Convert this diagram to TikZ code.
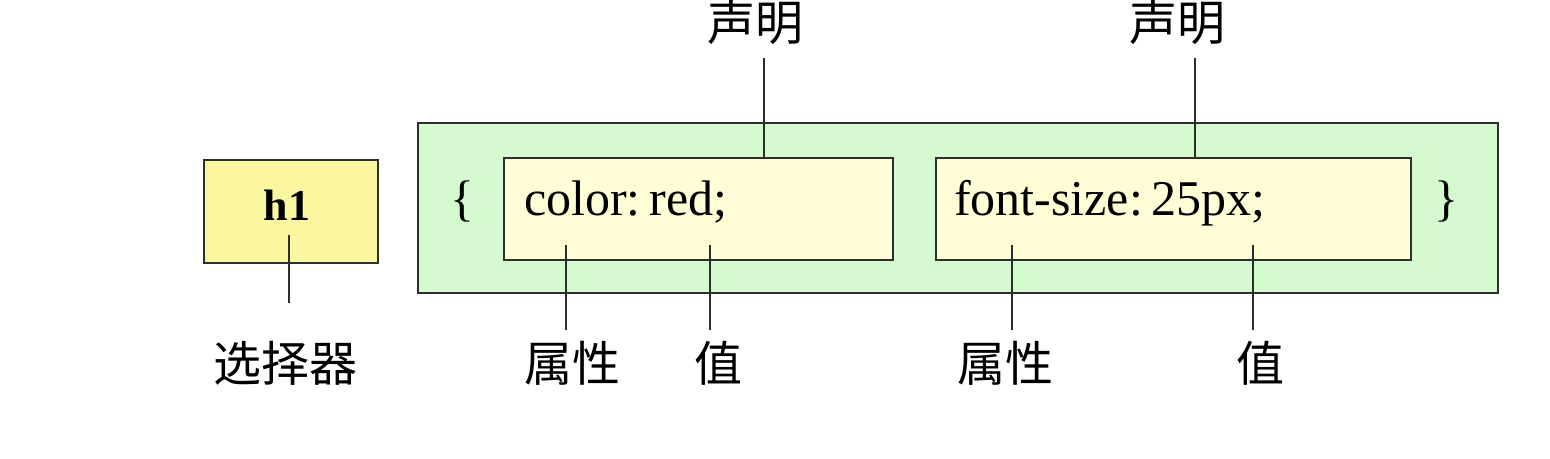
\documentclass[tikz,border=0pt]{standalone}
\usepackage{fontspec}
\setmainfont{Liberation Serif}
\newfontfamily\cjk{Noto Sans CJK SC}
\definecolor{selfill}{HTML}{FAF7A0}
\definecolor{grfill}{HTML}{D5FAD0}
\definecolor{declfill}{HTML}{FFFDD6}
\definecolor{edge}{HTML}{2E2E2E}
\begin{document}
\begin{tikzpicture}[x=1pt,y=-1pt,
  boxstyle/.style={draw=edge,line width=2.4pt,inner sep=0pt},
  code/.style={font=\fontsize{50}{60}\selectfont,inner sep=0pt,anchor=base west},
  cjklabel/.style={font=\cjk\fontsize{48}{54}\selectfont,inner sep=0pt},
  conn/.style={draw=edge,line width=2.2pt}]
\useasboundingbox (0,0) rectangle (1550,458);
\fill[white] (0,0) rectangle (1550,458);
% boxes
\node[boxstyle,fill=selfill,minimum width=174pt,minimum height=103pt] (sel) at (291,211.5) {};
\node[font=\bfseries\fontsize{44}{50}\selectfont,inner sep=0pt,anchor=base] (h1) at (287,220) {h1};
\node[boxstyle,fill=grfill,minimum width=1080pt,minimum height=170pt] (block) at (958,208) {};
\node[boxstyle,fill=declfill,minimum width=389pt,minimum height=102pt] (d1) at (698.5,209) {};
\node[boxstyle,fill=declfill,minimum width=475pt,minimum height=102pt] (d2) at (1173.5,209) {};
\node[code] (lb) at (450,215) {\{};
\node[code] (rb) at (1434,215) {\}};
\node[code] (t1) at (524,215) {color:\kern-4pt\ red;};
\node[code] (t2) at (954,215) {font-size:\kern-4pt\ 25px;};
% labels
\node[cjklabel] (selL) at (285,363) {选择器};
\node[cjklabel] (decl1) at (755,22) {声明};
\node[cjklabel] (decl2) at (1177,22) {声明};
\node[cjklabel] (prop1) at (572,363) {属性};
\node[cjklabel] (val1) at (718,363) {值};
\node[cjklabel] (prop2) at (1005,363) {属性};
\node[cjklabel] (val2) at (1260,363) {值};
% connector end points
\coordinate (s0) at (289,235); \coordinate (s1) at (289,303);
\coordinate (a0) at (764,58); \coordinate (b0) at (1195,58);
\coordinate (p1a) at (566,245); \coordinate (p1b) at (566,330);
\coordinate (v1a) at (710,245); \coordinate (v1b) at (710,330);
\coordinate (p2a) at (1012,245); \coordinate (p2b) at (1012,330);
\coordinate (v2a) at (1253,245); \coordinate (v2b) at (1253,330);
% connectors
\draw[conn] (s0) -- (s1);
\draw[conn] (a0) -- (a0 |- d1.north);
\draw[conn] (b0) -- (b0 |- d2.north);
\draw[conn] (p1a) -- (p1b);
\draw[conn] (v1a) -- (v1b);
\draw[conn] (p2a) -- (p2b);
\draw[conn] (v2a) -- (v2b);
\end{tikzpicture}
\end{document}
